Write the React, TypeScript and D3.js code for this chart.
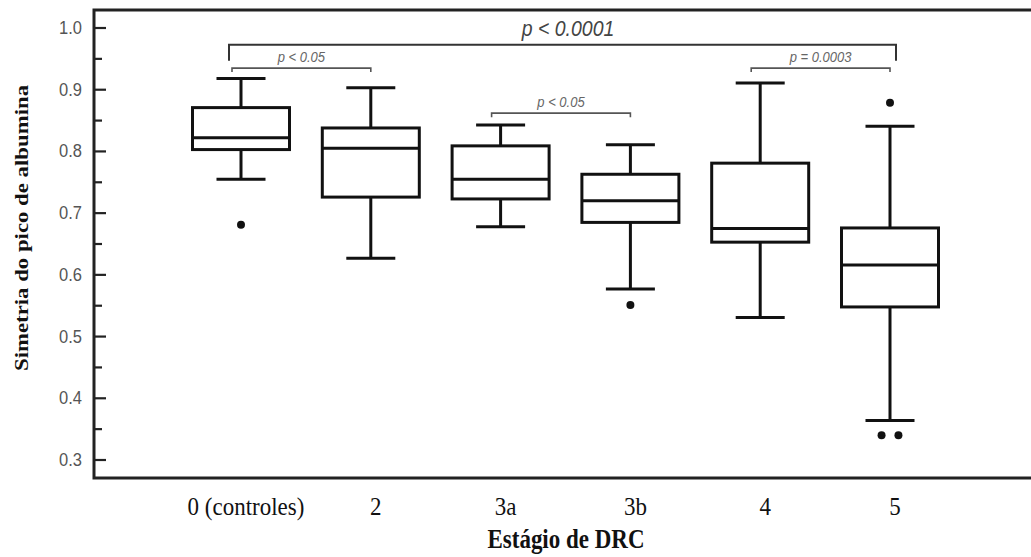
import React from "react";
import * as d3 from "d3";

const categories = ["0 (controles)", "2", "3a", "3b", "4", "5"];
const whiskerHigh = [0.918, 0.903, 0.843, 0.811, 0.911, 0.841];
const q3Values = [0.871, 0.838, 0.809, 0.763, 0.781, 0.676];
const medians = [0.822, 0.805, 0.755, 0.720, 0.675, 0.616];
const q1Values = [0.803, 0.726, 0.723, 0.685, 0.653, 0.548];
const whiskerLow = [0.755, 0.627, 0.678, 0.577, 0.531, 0.364];
// outliers: [category index, value, horizontal jitter in category units]
const outliers: [number, number, number][] = [
  [0, 0.681, 0],
  [3, 0.551, 0],
  [5, 0.879, 0],
  [5, 0.340, -0.065],
  [5, 0.340, 0.065],
];
const yTicks = [0.3, 0.4, 0.5, 0.6, 0.7, 0.8, 0.9, 1.0];
const yMinorTicks = [0.35, 0.45, 0.55, 0.65, 0.75, 0.85, 0.95];
// brackets: [from index, to index, level value, label, big]
const brackets: [number, number, number, string, boolean][] = [
  [0, 5, 0.973, "p < 0.0001", true],
  [0, 1, 0.935, "p < 0.05", false],
  [2, 3, 0.862, "p < 0.05", false],
  [4, 5, 0.935, "p = 0.0003", false],
];

export default function App() {
  const W = 1031, H = 557;
  const frameL = 94, frameT = 10, frameB = 478, frameR = 1040;
  const y = d3.scaleLinear().domain([0.3, 1.0]).range([460, 28]);
  const x = d3.scalePoint<string>().domain(categories).range([241, 890]);
  const step = x.step();
  const boxW = 97, capW = 49;
  const sans = "'Liberation Sans', Arial, sans-serif";
  const serif = "'Liberation Serif', 'Times New Roman', serif";

  return (
    <svg width={W} height={H} style={{ position: "absolute", left: 0, top: 0, background: "#fff" }}>
      {/* frame */}
      <rect x={frameL} y={frameT} width={frameR - frameL} height={frameB - frameT} fill="none" stroke="#222" strokeWidth={3} />
      {/* y ticks */}
      {yTicks.map((t) => (
        <g key={"yt" + t}>
          <line x1={frameL} x2={frameL + 12} y1={y(t)} y2={y(t)} stroke="#222" strokeWidth={2.2} />
          <text
            transform={`translate(82,${y(t) + 6}) scale(1,1.1)`}
            textAnchor="end"
            fontFamily={sans}
            fontSize={16.5}
            fill="#555"
          >
            {t.toFixed(1)}
          </text>
        </g>
      ))}
      {yMinorTicks.map((t) => (
        <line key={"ym" + t} x1={frameL} x2={frameL + 8} y1={y(t)} y2={y(t)} stroke="#222" strokeWidth={2.2} />
      ))}
      {/* boxes */}
      {categories.map((c, i) => {
        const cx = x(c)!;
        return (
          <g key={c} stroke="#111" strokeWidth={3} fill="none">
            <line x1={cx} x2={cx} y1={y(whiskerHigh[i])} y2={y(q3Values[i])} />
            <line x1={cx} x2={cx} y1={y(q1Values[i])} y2={y(whiskerLow[i])} />
            <line x1={cx - capW / 2} x2={cx + capW / 2} y1={y(whiskerHigh[i])} y2={y(whiskerHigh[i])} />
            <line x1={cx - capW / 2} x2={cx + capW / 2} y1={y(whiskerLow[i])} y2={y(whiskerLow[i])} />
            <rect x={cx - boxW / 2} y={y(q3Values[i])} width={boxW} height={y(q1Values[i]) - y(q3Values[i])} fill="#fff" />
            <line x1={cx - boxW / 2} x2={cx + boxW / 2} y1={y(medians[i])} y2={y(medians[i])} />
          </g>
        );
      })}
      {outliers.map(([i, v, j], k) => (
        <circle key={"o" + k} cx={x(categories[i])! + j * step} cy={y(v)} r={4} fill="#111" />
      ))}
      {/* significance brackets */}
      {brackets.map(([a, b, lvl, label, big], k) => {
        const x1 = x(categories[a])! + (big ? -12 : -9);
        const x2 = x(categories[b])! + (big ? 6 : 0);
        const yy = y(lvl);
        const drop = big ? 16 : 4;
        const tx = big ? 568 : (x1 + x2) / 2;
        const ty = yy - (big ? 9 : 6);
        return (
          <g key={"b" + k}>
            <path
              d={`M${x1},${yy + drop}V${yy}H${x2}V${yy + drop}`}
              fill="none"
              stroke={big ? "#333" : "#555"}
              strokeWidth={big ? 2 : 1.6}
            />
            <text
              transform={`translate(${tx},${ty}) scale(1,1.1)`}
              textAnchor="middle"
              fontFamily={sans}
              fontStyle="italic"
              fontSize={big ? 19.5 : 13}
              fill={big ? "#444" : "#666"}
            >
              {label}
            </text>
          </g>
        );
      })}
      {/* x labels */}
      {categories.map((c) => (
        <text
          key={"xl" + c}
          transform={`translate(${x(c)! + 5},515) scale(1,1.12)`}
          textAnchor="middle"
          fontFamily={serif}
          fontSize={23}
          fill="#111"
        >
          {c}
        </text>
      ))}
      <text
        transform="translate(566,548) scale(1,1.18)"
        textAnchor="middle"
        fontFamily={serif}
        fontWeight="bold"
        fontSize={23}
        fill="#111"
      >
        Estágio de DRC
      </text>
      <text
        transform={`translate(28,${228}) rotate(-90) scale(1.2,1)`}
        textAnchor="middle"
        fontFamily={serif}
        fontWeight="bold"
        fontSize={19}
        fill="#111"
      >
        Simetria do pico de albumina
      </text>
    </svg>
  );
}
